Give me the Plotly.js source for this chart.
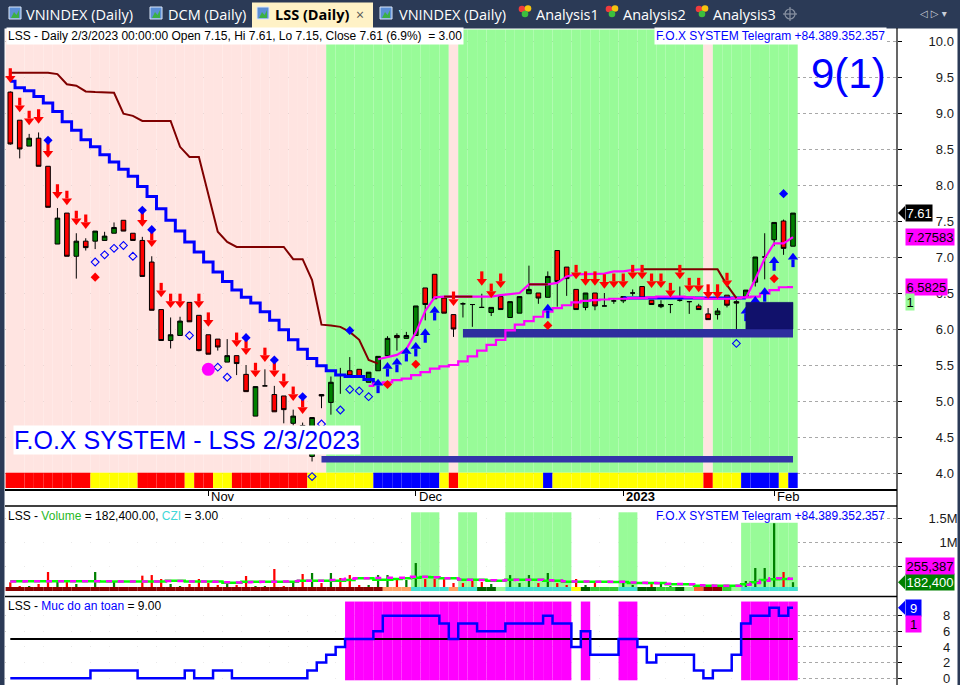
<!DOCTYPE html>
<html>
<head>
<meta charset="utf-8">
<script src="https://cdn.plot.ly/plotly-3.0.1.min.js"></script>
<style>
html,body{margin:0;padding:0;background:#fff;overflow:hidden;}
#chart{width:960px;height:685px;}
</style>
</head>
<body>
<div id="chart"></div>
<script>
// ================= DATA =================
const dates = [
 '2022-10-03','2022-10-04','2022-10-05','2022-10-06','2022-10-07',
 '2022-10-10','2022-10-11','2022-10-12','2022-10-13','2022-10-14',
 '2022-10-17','2022-10-18','2022-10-19','2022-10-20','2022-10-21',
 '2022-10-24','2022-10-25','2022-10-26','2022-10-27','2022-10-28',
 '2022-10-31',
 '2022-11-01','2022-11-02','2022-11-03','2022-11-04',
 '2022-11-07','2022-11-08','2022-11-09','2022-11-10','2022-11-11',
 '2022-11-14','2022-11-15','2022-11-16','2022-11-17','2022-11-18',
 '2022-11-21','2022-11-22','2022-11-23','2022-11-24','2022-11-25',
 '2022-11-28','2022-11-29','2022-11-30',
 '2022-12-01','2022-12-02',
 '2022-12-05','2022-12-06','2022-12-07','2022-12-08','2022-12-09',
 '2022-12-12','2022-12-13','2022-12-14','2022-12-15','2022-12-16',
 '2022-12-19','2022-12-20','2022-12-21','2022-12-22','2022-12-23',
 '2022-12-26','2022-12-27','2022-12-28','2022-12-29','2022-12-30',
 '2023-01-03','2023-01-04','2023-01-05','2023-01-06',
 '2023-01-09','2023-01-10','2023-01-11','2023-01-12','2023-01-13',
 '2023-01-16','2023-01-17','2023-01-18','2023-01-19',
 '2023-01-27','2023-01-30','2023-01-31',
 '2023-02-01','2023-02-02','2023-02-03'
];
const monthTicks  = ['2022-11-01','2022-12-01','2023-01-03','2023-02-01'];
const monthLabels = ['Nov','Dec','<b>2023</b>','Feb'];
const priceTicks  = [4.0,4.5,5.0,5.5,6.0,6.5,7.0,7.5,8.0,8.5,9.0,9.5,10.0];
const volumeTicks = [500000,1000000,1500000];
const volumeTickText = ['','1M','1.5M'];
const safetyTicks = [0,2,4,6,8];

const openP = [
 9.29,8.90,8.54,8.65,8.26,7.18,7.61,7.01,7.22,7.22,
 7.23,7.33,7.51,7.33,7.23,6.93,6.27,5.84,5.91,6.37,
 6.19,5.92,5.86,5.54,5.63,5.37,4.79,5.21,5.09,5.07,
 4.69,4.66,4.23,5.09,4.98,5.36,5.42,5.44,5.26,5.42,
 5.63,5.91,5.87,5.91,6.57,6.76,6.43,6.20,6.35,6.34,
 6.30,6.23,6.45,6.16,6.22,6.49,6.50,6.44,7.09,6.86,
 6.55,6.30,6.50,6.32,6.39,6.39,6.50,6.59,6.40,6.31,
 6.34,6.40,6.38,6.32,6.21,6.20,6.47,6.38,6.45,6.65,
 7.00,7.24,7.50,7.15];
const highP = [
 9.30,8.90,8.71,8.73,8.26,7.68,7.61,7.33,7.26,7.36,
 7.35,7.48,7.51,7.33,7.28,7.01,6.27,6.16,6.17,6.37,
 6.19,5.92,5.86,5.86,5.63,5.50,5.20,5.44,5.21,5.07,
 4.88,4.70,4.77,5.09,5.34,5.46,5.61,5.44,5.40,5.62,
 5.90,5.94,5.96,6.32,6.57,6.76,6.43,6.20,6.37,6.34,
 6.49,6.30,6.45,6.38,6.45,6.88,6.50,6.80,7.09,6.86,
 6.55,6.50,6.50,6.50,6.41,6.45,6.55,6.59,6.40,6.40,
 6.34,6.59,6.38,6.35,6.29,6.29,6.47,6.40,6.54,7.00,
 7.33,7.48,7.52,7.61];
const lowP = [
 8.56,8.37,8.54,8.26,7.69,7.18,7.01,6.70,7.09,7.11,
 7.23,7.33,7.36,7.23,6.73,6.26,5.84,5.73,5.91,6.10,
 5.69,5.65,5.70,5.54,5.36,5.13,4.79,5.21,4.85,4.69,
 4.66,4.40,4.16,4.90,4.81,5.10,5.35,5.34,5.26,5.42,
 5.63,5.70,5.87,5.91,6.12,6.42,6.22,5.89,6.16,6.03,
 6.30,6.18,6.27,6.16,6.22,6.49,6.35,6.44,6.31,6.46,
 6.27,6.26,6.26,6.32,6.35,6.36,6.46,6.43,6.34,6.29,
 6.22,6.38,6.21,6.27,6.13,6.13,6.30,6.00,6.45,6.59,
 6.69,7.15,7.03,7.15];
const closeP = [
 8.57,8.50,8.65,8.26,7.69,7.54,7.01,7.22,7.13,7.36,
 7.29,7.41,7.36,7.23,6.73,6.26,5.84,5.92,6.11,6.10,
 5.70,5.65,5.75,5.63,5.52,5.13,5.20,5.21,4.85,4.88,
 4.79,4.45,4.77,5.07,5.26,5.36,5.35,5.34,5.40,5.62,
 5.87,5.88,5.91,6.32,6.34,6.42,6.22,6.00,6.35,6.34,
 6.30,6.30,6.27,6.38,6.45,6.55,6.43,6.73,6.66,6.70,
 6.27,6.50,6.32,6.32,6.39,6.45,6.50,6.43,6.34,6.34,
 6.34,6.40,6.38,6.27,6.13,6.25,6.33,6.36,6.54,7.00,
 7.00,7.48,7.12,7.61];

// background state (P = pink / downtrend, G = green / uptrend) and bottom ribbon (R/Y/B)
const trendBg = 'PPPPPPPPPPPPPPPPPPPPPPPPPPPPPPPPPP' + 'GGGGGGGGGGGGG' + 'P' + 'GGGGGGGGGGGGGGGGGGGGGGGGGG' + 'P' + 'GGGGGGGGG';
const ribbon  = 'RRRRRRRRR' + 'YYYYY' + 'RRRRR' + 'Y' + 'RR' + 'YY' + 'RRRRRRRR' + 'YYYYYYY' + 'BBBBBBB' + 'Y' + 'R' +
                'YYYYYYYYY' + 'B' + 'YYYYYYYYYYYYYYYY' + 'R' + 'YYY' + 'BBBB' + 'Y' + 'B';

const trailDown = [
 9.56,9.56,9.56,9.56,9.56,9.54,9.40,9.38,9.30,9.29,
 9.29,9.28,8.99,8.96,8.89,8.89,8.89,8.89,8.53,8.39,
 8.39,7.85,7.35,7.21,7.14,7.14,7.14,7.14,7.14,7.14,
 6.97,6.97,6.68,6.06,6.05,6.03,5.96,5.85,5.57,5.52,
 null,null,null,null,null,null,6.45,6.45,6.45,6.45,
 null,null,null,null,null,6.62,6.62,6.62,null,null,
 null,null,null,null,null,null,null,6.83,6.83,6.83,
 6.83,6.83,6.83,6.83,6.83,6.83,6.61,6.43,null,null,
 null,null,null,null];
const trailUp = [
 null,null,null,null,null,null,null,null,null,null,
 null,null,null,null,null,null,null,null,null,null,
 null,null,null,null,null,null,null,null,null,null,
 null,null,null,null,null,null,null,null,null,5.58,
 5.61,5.64,5.72,5.95,6.25,6.44,6.45,6.45,6.45,6.45,
 6.45,6.45,6.47,6.49,6.50,6.62,6.62,6.62,6.64,6.73,
 6.76,6.76,6.76,6.77,6.80,6.80,6.82,6.83,null,null,
 null,null,null,null,null,null,null,null,6.43,6.69,
 6.98,7.19,7.19,7.27583];
const stopLine = [
 9.44,9.35,9.31,9.23,9.14,9.02,8.88,8.76,8.63,8.53,
 8.42,8.32,8.22,8.12,7.98,7.84,7.67,7.51,7.36,7.21,
 7.07,6.93,6.79,6.66,6.54,6.44,6.36,6.24,6.12,5.99,
 5.85,5.72,5.59,5.49,5.42,5.36,5.34,5.34,5.30,5.25,
 null,null,null,null,null,null,null,null,null,null,
 null,null,null,null,null,null,null,null,null,null,
 null,null,null,null,null,6.43,6.43,6.43,6.43,6.43,
 6.43,6.43,6.43,6.43,6.43,6.43,6.43,6.43,6.43,null,
 null,null,null,null];
const maLine = [
 null,null,null,null,null,null,null,null,null,null,
 null,null,null,null,null,null,null,null,null,null,
 null,null,null,null,null,null,null,null,null,null,
 null,null,null,null,null,null,null,null,5.21,5.24,
 5.26,5.29,5.31,5.36,5.40,5.45,5.48,5.50,5.55,5.62,
 5.70,5.78,5.85,5.98,6.06,6.11,6.17,6.24,6.29,6.33,
 6.37,6.39,6.40,6.41,6.42,6.42,6.43,6.43,6.44,6.45,
 6.45,6.45,6.44,6.43,6.42,6.42,6.42,6.43,6.44,6.45,
 6.49,6.54,6.58,6.5825];

// signals (bar number in the dates list, price level)
const sellBars = [0,1,2,3,4,5,6,7,8,14,15,16,17,18,20,21,24,25,26,27,28,29,30,31,47,50,51,52,
                  60,61,62,63,64,65,66,67,68,69,70,71,72,73,74,75,76];
const sellTip  = [9.42,9.01,8.83,8.85,8.38,7.81,7.72,7.44,7.39,7.42,7.14,6.44,6.29,6.29,6.29,6.03,
                  5.75,5.64,5.33,5.54,5.33,5.18,5.00,4.82,6.32,6.60,6.43,6.57,
                  6.69,6.60,6.60,6.56,6.57,6.57,6.69,6.69,6.57,6.57,6.44,6.69,6.51,6.51,6.42,6.42,6.58];
const buyBars  = [39,40,41,42,43,44,45,57,78,79,80,81,83];
const buyTip   = [5.31,5.54,5.60,5.75,5.82,6.01,6.32,6.35,6.31,6.46,6.58,7.01,7.06];
const hollowBars = [9,10,11,12,13,19,22,23,32,33,35,36,37,38,77];
const hollowVal  = [6.93,7.03,7.12,7.16,7.01,5.91,5.47,5.33,3.95,4.68,4.875,5.16,5.14,5.06,5.80];
const blueDotBars = [4,14,15,25,28,31,36,82];
const blueDotVal  = [8.62,7.65,7.38,5.88,5.57,5.06,5.98,7.88];
const redDotBars  = [9,32,40,43,57,81];
const redDotVal   = [6.72,3.74,5.23,5.51,6.05,6.70];
const bigDotBars  = [21];
const bigDotVal   = [5.44];

// support zones and box
const zoneFrom  = [33, 48];
const zoneTo    = [83, 83];
const zoneLevel = [4.19, 5.94];
const boxBars   = [78, 83];
const boxPrices = [6.00, 6.37];

// volume panel
const volume = [
 180000,103000,103000,145000,393000,227000,227000,145000,83000,393000,
 83000,193000,62000,83000,317000,330000,248000,145000,103000,145000,
 248000,165000,124000,186000,124000,310000,103000,103000,455000,103000,
 186000,351000,372000,165000,372000,269000,330000,124000,124000,330000,
 330000,248000,227000,578000,248000,248000,269000,165000,165000,248000,
 186000,145000,62000,330000,165000,330000,165000,372000,165000,124000,
 248000,124000,165000,83000,83000,165000,124000,83000,145000,145000,
 103000,62000,62000,83000,124000,83000,83000,40000,207000,475000,
 475000,1400000,393000,182400];
const volDir = 'RRGRRGRGRG' + 'GGRRRRRGGR' + 'RRRGRRGGRR' + 'GRGRGRRRGG' + 'GRGGRRRRRR' +
               'RGRGGGRGRR' + 'RGRRRGGRRG' + 'GGRRRRGRGG' + 'GGRG';
const volMaSlow = [
 200000,200000,200000,200000,200000,200000,200000,200000,200000,200000,
 195000,195000,195000,195000,195000,195000,195000,213000,213000,195000,
 195000,195000,195000,171000,171000,190000,190000,190000,190000,190000,
 190000,213000,213000,213000,213000,213000,225000,262000,262000,233000,
 233000,250000,265000,275000,290000,285000,262000,262000,233000,233000,
 233000,213000,213000,233000,233000,233000,233000,213000,213000,190000,
 190000,190000,190000,190000,186000,186000,165000,165000,165000,165000,
 138000,138000,138000,110000,110000,110000,110000,110000,138000,180000,
 230000,245000,248000,250000];
const volMaFast = [
 195000,195000,200000,200000,200000,200000,200000,200000,200000,200000,
 200000,200000,195000,195000,195000,195000,195000,205000,205000,195000,
 195000,195000,190000,180000,175000,180000,185000,190000,190000,195000,
 200000,213000,213000,213000,225000,240000,254000,262000,262000,270000,
 275000,275000,275000,295000,295000,285000,262000,262000,240000,233000,
 225000,220000,215000,230000,233000,233000,233000,220000,215000,200000,
 195000,195000,192000,192000,190000,190000,175000,170000,165000,160000,
 150000,145000,140000,120000,115000,110000,110000,110000,130000,165000,
 210000,262000,262000,255387];
const volRibbon = 'DDDDDDDDDDDDDDDDDDDDDDDDDDDDDDDDDDDDDDDD' + 'OOO' + 'CCCC' + 'O' + 'CC' + 'KK' + 'P' + 'CCCCCCC' +
                  'Y' + 'K' + 'GGG' + 'CC' + 'KK' + 'GG' + 'K' + 'P' + 'T' + 'DD' + 'G' + 'P' + 'CCCCCC';
const volZoneFrom = [43, 48, 53, 65, 78];
const volZoneTo   = [45, 49, 59, 66, 83];
const volZoneTop  = [1626000, 1626000, 1626000, 1626000, 1410000];

// safety level panel ("Muc do an toan")
const safety = [
 0,0,0,0,0,0,0,0,0,1,
 1,1,1,1,0,0,0,0,0,1,
 0,0,1,1,0,0,0,0,0,0,
 0,0,1,2,3,4,5,5,5,6,
 8,8,8,8,8,8,7,5,7,7,
 6,6,6,7,7,7,7,8,7,7,
 4,6,3,3,3,5,5,4,2,3,
 3,3,3,1,0,1,1,3,7,8,
 8,9,8,9];
const safetyThreshold = 5;

// ================= LAYOUT CONSTANTS =================
const W = 960, H = 685;
const X_PX = [5, 897];
const PRICE_PX = [29.5, 489], VOL_PX = [506, 596], MUC_PX = [597, 685];
const PRICE_RANGE = [3.7778, 10.1597], VOL_RANGE = [-103000, 1756000], MUC_RANGE = [-0.86, 10.38];
const X_RANGE = [-0.562, 94.03];
const dom = p => [1 - p[1] / H, 1 - p[0] / H];
const ppu = (px, r) => (px[1] - px[0]) / (r[1] - r[0]);
const PX = 1 / ppu(PRICE_PX, PRICE_RANGE);
const VPX = 1 / ppu(VOL_PX, VOL_RANGE);
const px2x = p => p / W;
const py2y = p => 1 - p / H;
const val2paper = (v, px, r) => py2y(px[1] - (v - r[0]) * ppu(px, r));

const FONT = 'Liberation Sans, Arial, sans-serif';
const TABFONT = 'Open Sans, Noto Sans, sans-serif';
const COL = {
  pink: '#FFE4E1', pale: '#98FB98', red: '#FF0000', green: '#008000', blue: '#0000FF',
  maroon: '#800000', magenta: '#FF00FF', yellow: '#FFFF00', band: '#2E2E9E', band2: '#3434AA', box: '#11116B'
};
const RIBBON_COL = {R: COL.red, Y: COL.yellow, B: COL.blue};
const VOLRIB_COL = {D: '#8B0000', O: '#FFA060', C: '#40E0D0', K: '#006400', P: '#98FB98', Y: '#FFFF00', G: '#32CD32', T: '#FF6030'};
const RIBBON_BASE = 3.792, RIBBON_TOP = 4.004;
const N = dates.length;
const at = bars => bars.map(i => dates[i]);
const skip = {hoverinfo: 'skip', showlegend: false};

const traces = [];
// ---- price panel: background stripes + ribbon ----
traces.push(Object.assign({type: 'bar', x: dates, y: dates.map(() => PRICE_RANGE[1] - RIBBON_TOP + 0.2),
  base: RIBBON_TOP, width: 1.0, marker: {color: trendBg.split('').map(c => c === 'P' ? COL.pink : COL.pale), line: {width: 0}},
  xaxis: 'x', yaxis: 'y'}, skip));
traces.push(Object.assign({type: 'bar', x: dates, y: dates.map(() => RIBBON_TOP - RIBBON_BASE),
  base: RIBBON_BASE, width: 1.0, marker: {color: ribbon.split('').map(c => RIBBON_COL[c]), line: {width: 0}},
  xaxis: 'x', yaxis: 'y'}, skip));
// ---- candles ----
traces.push(Object.assign({type: 'candlestick', x: dates, open: openP, high: highP, low: lowP, close: closeP,
  increasing: {fillcolor: COL.green, line: {color: '#000', width: 1}},
  decreasing: {fillcolor: COL.red, line: {color: '#000', width: 1}},
  whiskerwidth: 0, xaxis: 'x', yaxis: 'y'}, skip));
// ---- support zones ----
zoneLevel.forEach((lv, k) => {
  traces.push(Object.assign({type: 'scatter', mode: 'lines', x: [dates[zoneFrom[k]], dates[zoneTo[k]]], y: [lv, lv],
    line: {color: k === 0 ? COL.band2 : COL.band, width: k === 0 ? 6.5 : 8.5}, xaxis: 'x', yaxis: 'y'}, skip));
});
// ---- lines ----
traces.push(Object.assign({type: 'scatter', mode: 'lines', x: dates, y: stopLine, line: {color: COL.blue, width: 3, shape: 'hvh'}, xaxis: 'x', yaxis: 'y'}, skip));
traces.push(Object.assign({type: 'scatter', mode: 'lines', x: dates, y: maLine, line: {color: COL.magenta, width: 2.2, shape: 'hvh'}, xaxis: 'x', yaxis: 'y'}, skip));
traces.push(Object.assign({type: 'scatter', mode: 'lines', x: dates, y: trailUp, line: {color: COL.magenta, width: 2.2}, xaxis: 'x', yaxis: 'y'}, skip));
traces.push(Object.assign({type: 'scatter', mode: 'lines', x: dates, y: trailDown, line: {color: COL.maroon, width: 2}, xaxis: 'x', yaxis: 'y'}, skip));
// ---- arrows (head + shaft) ----
const HEAD = 9, SHAFT = 5.5;
traces.push(Object.assign({type: 'scatter', mode: 'markers', x: at(sellBars), y: sellTip.map(v => v + 10.6 * PX),
  marker: {symbol: 'line-ns', size: SHAFT, line: {width: 3.2, color: COL.red}}, xaxis: 'x', yaxis: 'y'}, skip));
traces.push(Object.assign({type: 'scatter', mode: 'markers', x: at(sellBars), y: sellTip.map(v => v + 4.5 * PX),
  marker: {symbol: 'triangle-down', size: HEAD, color: COL.red, line: {width: 0}}, xaxis: 'x', yaxis: 'y'}, skip));
traces.push(Object.assign({type: 'scatter', mode: 'markers', x: at(buyBars), y: buyTip.map(v => v - 10.6 * PX),
  marker: {symbol: 'line-ns', size: SHAFT, line: {width: 3.2, color: COL.blue}}, xaxis: 'x', yaxis: 'y'}, skip));
traces.push(Object.assign({type: 'scatter', mode: 'markers', x: at(buyBars), y: buyTip.map(v => v - 4.5 * PX),
  marker: {symbol: 'triangle-up', size: HEAD, color: COL.blue, line: {width: 0}}, xaxis: 'x', yaxis: 'y'}, skip));
// ---- dots ----
traces.push(Object.assign({type: 'scatter', mode: 'markers', x: at(hollowBars), y: hollowVal, cliponaxis: false,
  marker: {symbol: 'diamond-open', size: 6, color: COL.blue, line: {width: 1.1, color: COL.blue}}, xaxis: 'x', yaxis: 'y'}, skip));
traces.push(Object.assign({type: 'scatter', mode: 'markers', x: at(blueDotBars), y: blueDotVal,
  marker: {symbol: 'diamond', size: 7, color: COL.blue, line: {width: 0}}, xaxis: 'x', yaxis: 'y'}, skip));
traces.push(Object.assign({type: 'scatter', mode: 'markers', x: at(redDotBars), y: redDotVal, cliponaxis: false,
  marker: {symbol: 'diamond', size: 7, color: COL.red, line: {width: 0}}, xaxis: 'x', yaxis: 'y'}, skip));
traces.push(Object.assign({type: 'scatter', mode: 'markers', x: at(bigDotBars), y: bigDotVal,
  marker: {symbol: 'circle', size: 13, color: COL.magenta, line: {width: 0}}, xaxis: 'x', yaxis: 'y'}, skip));
// ---- dark box ----
traces.push(Object.assign({type: 'scatter', mode: 'lines', fill: 'toself', fillcolor: COL.box,
  x: [dates[boxBars[0]], dates[boxBars[1]], dates[boxBars[1]], dates[boxBars[0]], dates[boxBars[0]]],
  y: [boxPrices[0], boxPrices[0], boxPrices[1], boxPrices[1], boxPrices[0]],
  line: {color: COL.box, width: 0.5}, xaxis: 'x', yaxis: 'y'}, skip));

// ---- volume panel ----
traces.push(Object.assign({type: 'bar', x: dates, y: dates.map(() => VOL_RANGE[1] - VOL_RANGE[0] + 50000), base: VOL_RANGE[0],
  width: 1.0, marker: {color: '#FFFFFF', line: {width: 0}}, xaxis: 'x', yaxis: 'y2'}, skip));
const volZone = dates.map((d, i) => { let t = null; volZoneFrom.forEach((f, k) => { if (i >= f && i <= volZoneTo[k]) t = volZoneTop[k]; }); return t; });
traces.push(Object.assign({type: 'bar', x: dates, y: volZone, base: 0, width: 1.0,
  marker: {color: COL.pale, line: {width: 0}}, xaxis: 'x', yaxis: 'y2'}, skip));
traces.push(Object.assign({type: 'bar', x: dates, y: volume, base: 0, width: 0.24,
  marker: {color: volDir.split('').map(c => c === 'G' ? COL.green : COL.red), line: {width: 0}}, xaxis: 'x', yaxis: 'y2'}, skip));
traces.push(Object.assign({type: 'bar', x: dates, y: dates.map(() => 4 * VPX), base: 0, width: 1.0,
  marker: {color: volRibbon.split('').map(c => VOLRIB_COL[c]), line: {width: 0}}, xaxis: 'x', yaxis: 'y2'}, skip));
traces.push(Object.assign({type: 'scatter', mode: 'lines', x: dates, y: volMaSlow, line: {color: '#00FF00', width: 2.5, shape: 'hvh'}, xaxis: 'x', yaxis: 'y2'}, skip));
traces.push(Object.assign({type: 'scatter', mode: 'lines', x: dates, y: volMaFast, line: {color: COL.magenta, width: 2.5, shape: 'hvh', dash: '6px,6px'}, xaxis: 'x', yaxis: 'y2'}, skip));

// ---- safety panel ----
traces.push(Object.assign({type: 'bar', x: dates, y: dates.map(() => MUC_RANGE[1] - MUC_RANGE[0] + 1), base: MUC_RANGE[0],
  width: 1.0, marker: {color: '#FFFFFF', line: {width: 0}}, xaxis: 'x', yaxis: 'y3'}, skip));
traces.push(Object.assign({type: 'bar', x: dates, y: safety.map(v => v >= safetyThreshold ? 10.06 : null), base: -0.26, width: 1.0,
  marker: {color: COL.magenta, line: {width: 0}}, xaxis: 'x', yaxis: 'y3'}, skip));
traces.push(Object.assign({type: 'scatter', mode: 'lines', x: [dates[0], dates[N - 1]], y: [safetyThreshold, safetyThreshold],
  line: {color: '#000', width: 2}, xaxis: 'x', yaxis: 'y3'}, skip));
traces.push(Object.assign({type: 'scatter', mode: 'lines', x: dates, y: safety, line: {color: COL.blue, width: 2.5, shape: 'hvh'}, xaxis: 'x', yaxis: 'y3'}, skip));

// ================= SHAPES & ANNOTATIONS =================
const shapes = [];
const ann = [];
const rect = (x0, y0, x1, y1, fill, lineCol, lw) => shapes.push({type: 'rect', xref: 'paper', yref: 'paper',
  x0: px2x(x0), x1: px2x(x1), y0: py2y(y1), y1: py2y(y0), fillcolor: fill, line: {color: lineCol || fill, width: lw || 0}, layer: 'above'});
const hline = (y, x0, x1, col, w) => shapes.push({type: 'line', xref: 'paper', yref: 'paper', x0: px2x(x0), x1: px2x(x1), y0: py2y(y), y1: py2y(y), line: {color: col, width: w}, layer: 'above'});
const vline = (x, y0, y1, col, w) => shapes.push({type: 'line', xref: 'paper', yref: 'paper', x0: px2x(x), x1: px2x(x), y0: py2y(y0), y1: py2y(y1), line: {color: col, width: w}, layer: 'above'});
const text = (t, x, y, opts) => ann.push(Object.assign({text: t, xref: 'paper', yref: 'paper', x: px2x(x), y: py2y(y),
  xanchor: 'left', yanchor: 'middle', showarrow: false, font: {family: FONT, size: 12, color: '#000'}}, opts || {}));

// tab bar
const NAVY = '#2B3A56';
rect(0, 0, 960, 28.5, NAVY);
rect(0, 28, 4.5, 685, NAVY);
rect(957.5, 28, 960, 685, NAVY);
rect(252, 2.5, 373, 28.5, '#FFF2C6');
[9, 150, 257, 380].forEach(x0 => {
  rect(x0, 7, x0 + 12, 19, '#5C8FD6', '#DCE8FA', 1);
  shapes.push({type: 'path', xref: 'paper', yref: 'paper', layer: 'above', fillcolor: '#3CB043', line: {width: 0},
    path: `M${px2x(x0 + 2)},${py2y(18)} L${px2x(x0 + 5)},${py2y(12)} L${px2x(x0 + 7.5)},${py2y(15)} L${px2x(x0 + 10)},${py2y(10)} L${px2x(x0 + 10)},${py2y(18)} Z`});
});
[519, 606, 696].forEach(x0 => {
  [[x0 + 3, 9, '#F03C3C'], [x0 + 9, 8.5, '#F6C40F'], [x0 + 6, 14, '#3DBF3D']].forEach(c => shapes.push({type: 'circle', xref: 'paper', yref: 'paper', layer: 'above',
    x0: px2x(c[0] - 3.3), x1: px2x(c[0] + 3.3), y0: py2y(c[1] + 3.3), y1: py2y(c[1] - 3.3), fillcolor: c[2], line: {width: 0}}));
});
shapes.push({type: 'circle', xref: 'paper', yref: 'paper', layer: 'above', x0: px2x(785), x1: px2x(795), y0: py2y(19), y1: py2y(9), line: {color: '#8A93A3', width: 1.2}});
hline(14, 783, 797, '#8A93A3', 1.2);
vline(790, 7, 21, '#8A93A3', 1.2);
const tabs = [['VNINDEX (Daily)', 24], ['DCM (Daily)', 166], ['VNINDEX (Daily)', 396.5], ['Analysis1', 534], ['Analysis2', 621], ['Analysis3', 711]];
tabs.forEach(t => text(t[0], t[1], 14, {font: {family: TABFONT, size: 14.5, color: '#FFFFFF'}}));
text('<b>LSS (Daily)</b>', 273, 14, {font: {family: TABFONT, size: 14.5, color: '#000'}});
text('×', 354, 14, {font: {family: TABFONT, size: 14, color: '#555'}});
text('◁ ▷ ▾', 918, 13, {font: {family: 'DejaVu Sans, sans-serif', size: 10, color: '#C9CED8'}});

// panel frames
vline(897, 28, 685, '#000', 1.2);
hline(506, 5, 897, '#000', 1.5);
hline(596.5, 5, 897, '#000', 1.5);

// month labels under the price panel (left-aligned right of the tick, as in the reference)
monthTicks.forEach((d, k) => ann.push({text: monthLabels[k], xref: 'x', yref: 'paper', x: d, y: py2y(496.5),
  xanchor: 'left', yanchor: 'middle', xshift: 1, showarrow: false, font: {family: FONT, size: 13, color: '#000'}}));

// panel titles
const last = N - 1;
text('LSS - Daily 2/3/2023 00:00:00 Open ' + openP[last].toFixed(2) + ', Hi ' + highP[last].toFixed(2) + ', Lo ' + lowP[last].toFixed(2) +
  ', Close ' + closeP[last].toFixed(2) + ' (' + ((closeP[last] / closeP[last - 1] - 1) * 100).toFixed(1) + '%)\u00a0\u00a0= 3.00', 6, 35.5,
  {bgcolor: '#FFFFFF', borderpad: 1});
text('F.O.X SYSTEM Telegram +84.389.352.357', 887, 35.5, {xanchor: 'right', bgcolor: '#FFFFFF', borderpad: 1, font: {family: FONT, size: 12, color: COL.blue}});
text('9(1)', 888, 73, {xanchor: 'right', font: {family: FONT, size: 42, color: COL.blue}});
text('F.O.X SYSTEM - LSS 2/3/2023', 12.5, 439.5, {bgcolor: '#FFFFFF', borderpad: 0, font: {family: FONT, size: 25, color: COL.blue}});
text('LSS - <span style="color:#28B828">Volume</span> = ' + volume[last].toLocaleString('en-US') + '.00, <span style="color:#3FD8D8">CZI</span> = 3.00', 6, 516);
text('F.O.X SYSTEM Telegram +84.389.352.357', 887, 516, {xanchor: 'right', font: {family: FONT, size: 12, color: COL.blue}});
text('LSS - <span style="color:#0000FF">Muc do an toan</span> = ' + safety[last].toFixed(2), 6, 606);

// value labels on the right axis
const labelBox = (t, v, px, r, bg, fg, opts) => {
  const yP = val2paper(v, px, r);
  ann.push(Object.assign({text: t, xref: 'paper', yref: 'paper', x: px2x(904.5), y: yP, xanchor: 'left', yanchor: 'middle',
    showarrow: false, bgcolor: bg, borderpad: 0.5, font: {family: FONT, size: 13, color: fg}}, opts || {}));
};
const arrowTip = (v, px, r, col) => {
  const yP = val2paper(v, px, r);
  const h = 7 / H;
  shapes.push({type: 'path', xref: 'paper', yref: 'paper', layer: 'above', fillcolor: col, line: {width: 0},
    path: `M${px2x(898)},${yP} L${px2x(905)},${yP + h} L${px2x(905)},${yP - h} Z`});
};
labelBox(closeP[last].toFixed(2), closeP[last], PRICE_PX, PRICE_RANGE, '#000000', '#FFFFFF');
arrowTip(closeP[last], PRICE_PX, PRICE_RANGE, '#000000');
labelBox(String(trailUp[last]), trailUp[last], PRICE_PX, PRICE_RANGE, COL.magenta, '#000');
labelBox(String(maLine[last]), maLine[last], PRICE_PX, PRICE_RANGE, COL.magenta, '#000');
labelBox('1', maLine[last], PRICE_PX, PRICE_RANGE, COL.pale, '#000', {yshift: -15});
labelBox(volume[last].toLocaleString('en-US'), volume[last], VOL_PX, VOL_RANGE, COL.green, '#FFFFFF');
arrowTip(volume[last], VOL_PX, VOL_RANGE, COL.green);
labelBox(volMaFast[last].toLocaleString('en-US'), volMaFast[last], VOL_PX, VOL_RANGE, COL.magenta, '#000', {yshift: 13});
labelBox('\u00a0' + safety[last] + '\u00a0', safety[last], MUC_PX, MUC_RANGE, COL.blue, '#FFFFFF');
arrowTip(safety[last], MUC_PX, MUC_RANGE, COL.blue);
labelBox('\u00a01\u00a0', safety[last], MUC_PX, MUC_RANGE, COL.magenta, '#000', {yshift: -16});

// ================= AXES =================
const FIG = '\u2007', PUNC = '\u2008';
const yCommon = {side: 'right', anchor: 'x', showline: false, ticks: 'outside', ticklen: 4, tickcolor: '#000', tickwidth: 1,
  showgrid: true, gridcolor: '#A8A8A8', griddash: 'dot', gridwidth: 1, zeroline: false, fixedrange: true,
  tickfont: {family: FONT, size: 13, color: '#1A1A1A'}, tickmode: 'array', ticklabelstandoff: 24, ticklabeloverflow: 'allow'};
const layout = {
  width: W, height: H, margin: {l: 0, r: 0, t: 0, b: 0}, paper_bgcolor: '#FFFFFF', plot_bgcolor: '#FFFFFF',
  showlegend: false, barmode: 'overlay', hovermode: false, dragmode: false,
  xaxis: {type: 'category', categoryorder: 'array', categoryarray: dates, domain: [px2x(X_PX[0]), px2x(X_PX[1])], range: X_RANGE,
    anchor: 'y', showline: true, linecolor: '#000', linewidth: 1.5, ticks: 'outside', ticklen: 5, tickcolor: '#000',
    tickmode: 'array', tickvals: monthTicks, ticktext: monthLabels, showticklabels: false, showgrid: false, zeroline: false,
    rangeslider: {visible: false}, fixedrange: true},
  yaxis: Object.assign({}, yCommon, {domain: dom(PRICE_PX), range: PRICE_RANGE, tickvals: priceTicks,
    ticktext: priceTicks.map(v => (v >= 10 ? '' : FIG) + v.toFixed(1))}),
  yaxis2: Object.assign({}, yCommon, {domain: dom(VOL_PX), range: VOL_RANGE, tickvals: volumeTicks,
    ticktext: volumeTickText.map(t => t.length === 2 ? FIG + PUNC + t : t)}),
  yaxis3: Object.assign({}, yCommon, {domain: dom(MUC_PX), range: MUC_RANGE, tickvals: safetyTicks,
    ticktext: safetyTicks.map(v => FIG + FIG + v)}),
  shapes: shapes, annotations: ann
};
Plotly.newPlot('chart', traces, layout, {staticPlot: true, displayModeBar: false});
</script>
</body>
</html>
